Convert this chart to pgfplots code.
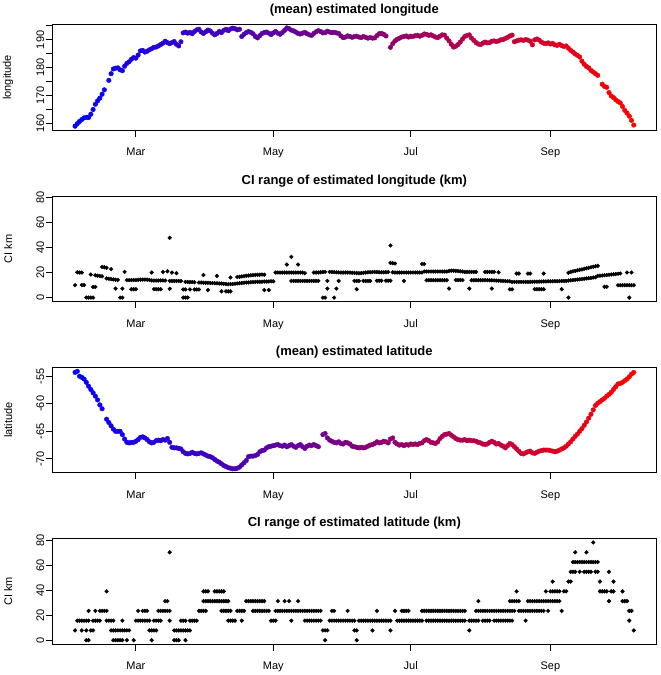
\documentclass[border=0pt]{standalone}
\usepackage{fontspec}
\setmainfont{Liberation Sans}
\usepackage{pgfplots}
\pgfplotsset{compat=1.18}
\begin{document}
\begin{tikzpicture}
\useasboundingbox (0pt,0pt) rectangle (661pt,675pt);
\pgfplotsset{
 rp/.style={
  scale only axis, width=604pt, height=105.5pt, anchor=south west,
  xmin=22.9, xmax=291.0,
  axis line style={line width=0.9pt},
  every tick/.style={black, line width=0.9pt},
  tick align=outside, major tick length=6.6pt, tick pos=left,
  xtick={60,121,182,244}, xticklabels={Mar,May,Jul,Sep},
  xticklabel style={font=\fontsize{11}{13}\selectfont, anchor=base, inner sep=0pt, yshift=-19pt},
  yticklabel style={font=\fontsize{11}{13}\selectfont, xshift=-1.5pt, rotate=90, anchor=base, inner sep=0pt},
  every axis y label/.style={at={(axis description cs:0,0.5)}, xshift=-44.2pt, rotate=90, anchor=center, font=\fontsize{11}{13}\selectfont},
  every axis title/.style={at={(axis description cs:0.5,1)}, anchor=center, yshift=15pt, font=\bfseries\fontsize{13}{15}\selectfont},
  colormap={br}{rgb255=(0,0,255) rgb255=(255,0,0)},
  point meta min=33, point meta max=281,
 },
 meanpts/.style={scatter, only marks, mark=*, mark size=2.3pt, point meta=x, scatter/use mapped color={draw=mapped color, fill=mapped color}},
 cipts/.style={only marks, mark=*, mark size=1.9pt, black, mark options={fill=black, draw=black}},
}
% ---------------- panel 1: longitude
\begin{axis}[rp, at={(52.3pt,544.8pt)}, ymin=157.45, ymax=195.45,
  ytick={160,165,170,175,180,185,190,195}, yticklabels={160,,170,,180,,190,},
  ylabel={longitude}, title={(mean) estimated longitude}]
\addplot[meanpts] table[row sep=\\] {x y\\
33 158.9\\34 159.8\\35 160.6\\36 161.3\\37 161.9\\38 162.1\\39 162.0\\40 163.2\\41 164.9\\42 166.8\\43 168.0\\44 169.0\\45 170.4\\46 172.0\\48 175.4\\49 177.8\\50 179.5\\51 179.8\\52 179.9\\53 179.2\\54 178.9\\55 180.5\\56 181.5\\57 182.1\\58 183.0\\59 183.6\\60 183.4\\61 184.5\\62 186.0\\63 186.2\\64 185.6\\65 185.9\\66 186.4\\67 186.8\\68 187.3\\69 187.4\\70 187.8\\71 188.3\\72 188.8\\73 189.5\\74 189.0\\75 188.6\\76 189.0\\77 189.4\\78 188.4\\79 187.8\\80 189.3\\81 192.5\\82 192.8\\83 192.4\\84 192.7\\85 192.2\\86 193.0\\87 193.6\\88 193.8\\89 192.8\\90 192.3\\91 192.9\\92 193.5\\93 193.2\\94 192.4\\95 191.8\\96 192.3\\97 193.0\\98 192.6\\99 193.4\\100 193.8\\101 193.3\\102 193.9\\103 194.2\\104 194.0\\105 193.6\\106 193.8\\107 191.2\\108 192.0\\109 192.6\\110 193.0\\111 192.7\\112 192.2\\113 191.2\\114 190.7\\115 191.5\\116 192.3\\117 192.6\\118 192.8\\119 192.4\\120 191.9\\121 192.5\\122 193.0\\123 192.4\\124 192.0\\125 192.6\\126 193.4\\127 194.3\\128 194.0\\129 193.5\\130 193.2\\131 192.8\\132 192.3\\133 192.1\\134 192.4\\135 192.7\\136 192.2\\137 191.8\\138 191.6\\139 192.3\\140 192.9\\141 193.3\\142 193.0\\143 192.5\\144 192.6\\145 193.1\\146 192.8\\147 192.6\\148 192.7\\149 192.5\\150 192.3\\151 191.4\\152 190.8\\153 191.0\\154 191.4\\155 191.2\\156 190.9\\157 191.2\\158 191.3\\159 191.0\\160 190.8\\161 191.2\\162 190.9\\163 190.6\\164 190.8\\165 190.6\\166 190.7\\167 191.5\\168 192.2\\169 192.3\\170 192.0\\171 191.4\\173 187.3\\174 188.6\\175 189.6\\176 190.2\\177 190.6\\178 191.0\\179 191.2\\180 191.4\\181 191.0\\182 191.3\\183 191.2\\184 191.5\\185 191.6\\186 191.3\\187 191.6\\188 192.1\\189 192.0\\190 191.6\\191 191.8\\192 191.4\\193 191.0\\194 190.8\\195 191.3\\196 191.8\\197 191.7\\198 190.6\\199 189.6\\200 188.4\\201 187.4\\202 187.7\\203 188.3\\204 189.2\\205 190.3\\206 191.2\\207 191.6\\208 191.8\\209 190.6\\210 189.8\\211 189.0\\212 188.5\\213 188.3\\214 188.8\\215 189.2\\216 188.9\\217 189.0\\218 189.5\\219 189.6\\220 189.4\\221 189.6\\222 190.0\\223 190.1\\224 190.5\\225 190.9\\226 191.4\\227 191.7\\228 189.3\\229 189.6\\230 189.9\\231 190.0\\232 189.8\\233 190.1\\234 189.9\\235 189.5\\236 188.2\\237 190.0\\238 190.3\\239 189.9\\240 189.2\\241 188.8\\242 188.6\\243 188.9\\244 188.5\\245 188.7\\246 188.2\\247 188.0\\248 188.4\\249 187.9\\250 187.6\\251 187.8\\252 187.0\\253 186.2\\254 185.6\\255 184.9\\256 184.4\\257 183.8\\258 182.3\\259 181.2\\260 180.4\\261 179.9\\262 179.0\\263 178.4\\264 177.8\\265 177.2\\267 174.0\\268 173.2\\269 172.9\\270 171.0\\271 169.8\\272 169.2\\273 168.4\\274 167.8\\275 167.3\\276 166.0\\277 164.6\\278 163.6\\279 162.5\\280 161.0\\281 159.3\\
};
\end{axis}
% ---------------- panel 2: CI longitude
\begin{axis}[rp, at={(52.3pt,373.5pt)}, ymin=-3.12, ymax=81.12,
  ytick={0,20,40,60,80}, yticklabels={0,20,40,60,80},
  ylabel={CI km}, title={CI range of estimated longitude (km)}]
\addplot[cipts] coordinates {
(33,9.9) (34,20.2) (35,20) (36,20) (36,10) (37,10) (38,0) (39,0) (40,0) (41,0) (40,18.4) (41,8.5) (42,8.5) (42,17.8) (43,17.5) (44,17.2) (45,17) (45,24.5) (46,24.2) (47,23.8) (49,22.7) (47,15.3) (48,15) (49,14.8) (50,14.5) (51,14.3) (52,14.1) (51,7.2) (53,0) (54,0) (54,7.2) (55,20.5) (56,13.9) (57,13.9) (58,14) (59,14) (60,14) (61,14.2) (62,14.3) (63,14.4) (64,14.4) (65,14.3) (66,14.1) (58,6.7) (59,6.7) (60,6.7) (67,20) (68,6.7) (69,6.7) (70,6.7) (71,6.7) (67,13.7) (68,13.6) (69,13.6) (70,13.6) (71,13.7) (72,13.7) (73,13.6) (72,20.5) (74,21) (75,47.7) (75,7) (76,20) (75,13.3) (76,13.3) (77,13.3) (78,13.3) (79,13.3) (80,13.2) (78,19.5) (81,0) (82,0) (83,0) (81,6.5) (82,6.5) (84,6.5) (82,12.5) (83,12.5) (84,12.4) (85,12.4) (86,12.3) (86,6.5) (87,6.5) (88,6.5) (88,12) (89,12) (90,11.9) (91,11.8) (92,11.8) (93,11.7) (94,11.6) (95,11.5) (96,11.4) (97,11.3) (98,11.2) (99,11) (100,10.8) (101,10.7) (90,18) (92,6) (96,17.3) (98,5) (100,5) (101,5) (102,5) (102,16) (102,10.8) (103,10.9) (104,11.1) (105,11.3) (106,11.5) (107,11.7) (108,11.9) (109,12) (110,12.1) (111,12.3) (112,12.4) (105,16.4) (106,16.6) (107,16.9) (108,17.1) (109,17.4) (110,17.6) (111,17.8) (112,18) (113,18.1) (114,18.2) (115,18.3) (116,18.4) (117,18.3) (117,6) (119,6) (113,12.5) (114,12.6) (115,12.6) (116,12.7) (117,12.8) (118,12.8) (119,12.9) (120,13) (121,13) (122,20) (123,20) (124,20) (125,20) (126,20) (127,20) (128,20) (129,20) (130,20) (131,20) (132,20) (133,20) (134,20) (127,26.4) (129,32.5) (132,26.4) (129,13.3) (130,13.3) (131,13.3) (132,13.3) (133,13.3) (134,13.3) (135,13.3) (136,13.3) (137,13.3) (138,13.3) (139,13.3) (140,13.3) (141,13.3) (135,19.5) (139,20) (140,20) (141,20) (142,20.2) (143,20.4) (144,20.5) (143,0) (144,0) (145,7.2) (145,13.3) (146,20.5) (147,20.4) (148,20.3) (149,20.2) (150,20.1) (151,20) (152,20) (153,20) (154,20) (155,20) (148,0) (149,7.2) (150,13.3) (156,19.8) (157,19.7) (158,19.6) (159,19.5) (160,19.6) (161,19.8) (162,20) (163,20.2) (164,20.3) (165,20.4) (166,20.5) (167,20.4) (168,20.3) (169,20.2) (170,20.2) (171,20.3) (172,20.4) (174,20.2) (157,13.3) (158,13.3) (159,13.3) (158,6.7) (161,13.3) (162,13.3) (163,13.3) (164,13.3) (167,13.5) (168,13.5) (169,13.5) (171,13.5) (172,13.5) (173,13.5) (173,41.6) (173,27.7) (174,27.5) (175,27.2) (175,20) (176,20) (177,20) (178,20) (179,20) (180,20) (181,20) (182,20) (183,20) (184,20) (185,20) (186,20) (187,20) (179,13.3) (187,26.8) (188,26.8) (188,20.8) (189,20.8) (190,20.8) (191,20.8) (192,20.8) (193,20.8) (194,20.8) (195,20.8) (196,20.8) (197,20.8) (198,20.8) (189,13.9) (190,13.9) (191,13.9) (192,13.9) (193,13.9) (194,13.9) (195,13.9) (196,13.9) (197,13.9) (198,13.9) (199,7.2) (199,21.3) (200,21.5) (201,21.5) (202,21.3) (203,21.2) (204,21) (205,20.8) (202,14) (203,14) (204,14) (205,14) (206,20.5) (207,20.5) (208,20.5) (209,20.5) (210,20.5) (211,20.5) (208,7.2) (209,13.9) (210,13.9) (211,13.9) (212,13.9) (213,13.9) (214,13.9) (215,13.9) (216,13.9) (215,20.5) (216,20.5) (217,20.5) (218,20.5) (219,20.5) (218,7.2) (217,13.8) (218,13.8) (219,13.7) (220,13.6) (221,13.5) (222,13.4) (223,13.3) (224,13.2) (225,13.1) (226,13) (221,20.2) (226,6.6) (227,6.6)
(227,12.5) (228,12.5) (229,12.5) (230,12.5) (231,12.5) (232,12.5) (233,12.5) (234,12.5) (235,12.6) (236,12.6) (237,12.7) (238,12.7) (239,12.8) (240,12.8) (241,12.9) (242,12.9) (243,13) (244,13) (245,13) (246,13.1) (247,13.1) (248,13.2) (249,13.2) (250,13.3) (251,13.3) (229,19.2) (230,19.2) (234,19.2) (235,19.2) (237,6.7) (238,6.7) (239,6.7) (240,6.7) (241,6.7) (241,19.2) (249,6.7) (252,0)
(252,19.8) (253,20.5) (254,21) (255,21.3) (256,21.8) (257,22.2) (258,22.5) (259,23) (260,23.4) (261,23.8) (262,24.2) (263,24.6) (264,25) (265,25.3)
(252,13.6) (253,13.8) (254,14) (255,14.2) (256,14.4) (257,14.6) (258,14.8) (259,15) (260,15.3) (261,15.5) (262,15.7) (263,16) (264,16.2)
(265,17.3) (266,17.5) (267,17.6) (268,17.8) (269,18) (270,18.2) (271,18.4) (272,18.6) (273,18.8) (274,19) (275,19.2) (268,8.6) (269,8.6)
(274,9.9) (275,9.9) (276,9.9) (277,9.9) (278,9.9) (279,9.9) (280,9.9) (281,9.9) (278,20) (280,20) (279,0)
};
\end{axis}
% ---------------- panel 3: latitude
\begin{axis}[rp, at={(52.3pt,202.2pt)}, ymin=-72.53, ymax=-53.37,
  ytick={-70,-65,-60,-55}, yticklabels={-70,-65,-60,-55},
  ylabel={latitude}, title={(mean) estimated latitude}]
\addplot[meanpts] table[row sep=\\] {x y\\
33 -54.3\\34 -54.1\\35 -55.0\\36 -55.2\\37 -55.5\\38 -56.1\\39 -56.8\\40 -57.4\\41 -58.0\\42 -58.6\\43 -59.3\\44 -60.2\\45 -60.9\\47 -62.8\\48 -63.4\\49 -64.0\\50 -64.6\\51 -65.0\\52 -65.0\\53 -65.0\\54 -65.6\\55 -66.4\\56 -67.0\\57 -67.1\\58 -67.0\\59 -67.0\\60 -66.8\\61 -66.5\\62 -66.1\\63 -66.0\\64 -66.2\\65 -66.5\\66 -66.9\\67 -67.1\\68 -67.0\\69 -66.7\\70 -66.6\\71 -66.7\\72 -66.5\\73 -66.6\\74 -66.3\\75 -67.0\\76 -67.9\\77 -68.0\\78 -68.0\\79 -68.1\\80 -68.2\\81 -68.7\\82 -69.0\\83 -69.1\\84 -69.0\\85 -68.8\\86 -69.0\\87 -69.1\\88 -69.0\\89 -68.9\\90 -69.1\\91 -69.3\\92 -69.5\\93 -69.6\\94 -69.8\\95 -70.1\\96 -70.4\\97 -70.6\\98 -70.9\\99 -71.2\\100 -71.4\\101 -71.6\\102 -71.7\\103 -71.8\\104 -71.8\\105 -71.7\\106 -71.5\\107 -71.1\\108 -70.7\\109 -70.3\\110 -69.6\\111 -69.5\\112 -69.5\\113 -69.4\\114 -69.2\\115 -68.7\\116 -68.5\\117 -68.4\\118 -68.0\\119 -67.8\\120 -67.7\\121 -67.6\\122 -67.5\\123 -67.4\\124 -67.6\\125 -67.7\\126 -67.5\\127 -67.8\\128 -67.6\\129 -67.4\\130 -67.7\\131 -67.9\\132 -67.6\\133 -67.4\\134 -67.8\\135 -68.1\\136 -67.7\\137 -67.5\\138 -67.6\\139 -67.4\\140 -67.6\\141 -67.8\\143 -65.6\\144 -65.4\\145 -66.2\\146 -66.6\\147 -66.8\\148 -67.0\\149 -67.1\\150 -66.9\\151 -67.2\\152 -67.3\\153 -67.0\\154 -67.1\\155 -67.3\\156 -67.7\\157 -67.8\\158 -67.9\\159 -68.0\\160 -67.9\\161 -68.0\\162 -67.9\\163 -67.7\\164 -67.5\\165 -67.4\\166 -67.2\\167 -66.9\\168 -67.1\\169 -67.0\\170 -66.8\\171 -66.9\\172 -67.1\\173 -66.4\\174 -66.2\\175 -67.0\\176 -67.3\\177 -67.5\\178 -67.4\\179 -67.6\\180 -67.4\\181 -67.5\\182 -67.3\\183 -67.4\\184 -67.3\\185 -67.4\\186 -67.2\\187 -67.1\\188 -66.7\\189 -66.5\\190 -66.7\\191 -67.0\\192 -67.1\\193 -67.2\\194 -66.9\\195 -66.3\\196 -65.9\\197 -65.6\\198 -65.5\\199 -65.4\\200 -65.7\\201 -66.0\\202 -66.3\\203 -66.5\\204 -66.6\\205 -66.6\\206 -66.5\\207 -66.7\\208 -66.6\\209 -66.7\\210 -66.7\\211 -66.8\\212 -67.0\\213 -67.1\\214 -67.3\\215 -67.4\\216 -67.3\\217 -67.0\\218 -66.8\\219 -67.0\\220 -67.3\\221 -67.2\\222 -67.5\\223 -67.7\\224 -68.0\\225 -67.6\\226 -67.2\\227 -67.4\\228 -67.8\\229 -68.2\\230 -68.6\\231 -69.0\\232 -69.1\\233 -68.9\\234 -68.7\\235 -68.6\\236 -68.9\\237 -69.0\\238 -68.8\\239 -68.6\\240 -68.5\\241 -68.4\\242 -68.4\\243 -68.4\\244 -68.5\\245 -68.6\\246 -68.7\\247 -68.6\\248 -68.4\\249 -68.2\\250 -68.0\\251 -67.7\\252 -67.3\\253 -66.9\\254 -66.4\\255 -65.9\\256 -65.5\\257 -65.0\\258 -64.5\\259 -63.9\\260 -63.3\\261 -62.6\\262 -61.9\\263 -61.1\\264 -60.3\\265 -59.9\\266 -59.6\\267 -59.3\\268 -59.0\\269 -58.6\\270 -58.3\\271 -57.9\\272 -57.4\\273 -56.9\\274 -56.4\\275 -56.3\\276 -56.1\\277 -55.8\\278 -55.5\\279 -55.1\\280 -54.6\\281 -54.3\\
};
\end{axis}
% ---------------- panel 4: CI latitude
\begin{axis}[rp, at={(52.3pt,30.9pt)}, ymin=-3.12, ymax=81.12,
  ytick={0,20,40,60,80}, yticklabels={0,20,40,60,80},
  ylabel={CI km}, title={CI range of estimated latitude (km)}]
% 0 km
\addplot[cipts] coordinates {(38,0) (39,0) (50,0) (51,0) (52,0) (53,0) (54,0) (56,0) (59,0) (67,0) (77,0) (78,0) (79,0) (82,0) (144,0) (158,0)};
% 7.8 km
\addplot[cipts] coordinates {(33,7.8) (36,7.8) (38,7.8) (40,7.8) (41,7.8) (49,7.8) (50,7.8) (51,7.8) (52,7.8) (53,7.8) (54,7.8) (55,7.8) (56,7.8) (57,7.8) (66,7.8) (67,7.8) (68,7.8) (69,7.8) (77,7.8) (78,7.8) (79,7.8) (80,7.8) (81,7.8) (82,7.8) (83,7.8) (84,7.8) (143,7.8) (144,7.8) (145,7.8) (157,7.8) (158,7.8) (165,7.8) (173,7.8) (208,7.8) (281,7.8)};
% 15.6 km
\addplot[cipts] coordinates {(34,15.6) (35,15.6) (36,15.6) (37,15.6) (38,15.6) (39,15.6) (41,15.6) (42,15.6) (43,15.6) (44,15.6) (47,15.6) (48,15.6) (49,15.6) (50,15.6) (54,15.6) (60,15.6) (61,15.6) (62,15.6) (63,15.6) (64,15.6) (65,15.6) (66,15.6) (68,15.6) (69,15.6) (70,15.6) (71,15.6) (75,15.6) (80,15.6) (81,15.6) (82,15.6) (84,15.6) (85,15.6) (86,15.6) (87,15.6) (101,15.6) (102,15.6) (103,15.6) (104,15.6) (107,15.6) (120,15.6) (121,15.6) (122,15.6) (129,15.6) (135,15.6) (136,15.6) (137,15.6) (138,15.6) (139,15.6) (140,15.6) (141,15.6) (142,15.6) (146,15.6) (147,15.6) (148,15.6) (149,15.6) (150,15.6) (151,15.6) (152,15.6) (153,15.6) (154,15.6) (155,15.6) (156,15.6) (157,15.6) (159,15.6) (160,15.6) (161,15.6) (162,15.6) (163,15.6) (164,15.6) (165,15.6) (166,15.6) (167,15.6) (168,15.6) (169,15.6) (170,15.6) (171,15.6) (172,15.6) (173,15.6) (176,15.6) (177,15.6) (178,15.6) (179,15.6) (180,15.6) (181,15.6) (182,15.6) (183,15.6) (184,15.6) (185,15.6) (186,15.6) (187,15.6) (189,15.6) (190,15.6) (191,15.6) (192,15.6) (193,15.6) (194,15.6) (195,15.6) (196,15.6) (197,15.6) (198,15.6) (199,15.6) (200,15.6) (201,15.6) (202,15.6) (203,15.6) (204,15.6) (205,15.6) (206,15.6) (208,15.6) (209,15.6) (210,15.6) (211,15.6) (212,15.6) (214,15.6) (215,15.6) (216,15.6) (217,15.6) (219,15.6) (220,15.6) (221,15.6) (222,15.6) (223,15.6) (224,15.6) (225,15.6) (226,15.6) (227,15.6) (233,15.6) (279,15.6)};
% 23.4 km
\addplot[cipts] coordinates {(39,23.4) (42,23.4) (44,23.4) (45,23.4) (46,23.4) (47,23.4) (61,23.4) (63,23.4) (64,23.4) (65,23.4) (70,23.4) (71,23.4) (72,23.4) (73,23.4) (74,23.4) (75,23.4) (88,23.4) (89,23.4) (90,23.4) (91,23.4) (98,23.4) (99,23.4) (100,23.4) (101,23.4) (102,23.4) (105,23.4) (106,23.4) (107,23.4) (108,23.4) (112,23.4) (113,23.4) (114,23.4) (115,23.4) (116,23.4) (117,23.4) (118,23.4) (119,23.4) (122,23.4) (123,23.4) (124,23.4) (125,23.4) (126,23.4) (127,23.4) (128,23.4) (129,23.4) (130,23.4) (131,23.4) (132,23.4) (133,23.4) (134,23.4) (135,23.4) (136,23.4) (137,23.4) (138,23.4) (139,23.4) (140,23.4) (141,23.4) (142,23.4) (147,23.4) (148,23.4) (154,23.4) (167,23.4) (175,23.4) (178,23.4) (179,23.4) (180,23.4) (181,23.4) (187,23.4) (188,23.4) (189,23.4) (190,23.4) (191,23.4) (192,23.4) (193,23.4) (194,23.4) (195,23.4) (196,23.4) (197,23.4) (198,23.4) (199,23.4) (200,23.4) (201,23.4) (202,23.4) (203,23.4) (204,23.4) (205,23.4) (206,23.4) (211,23.4) (212,23.4) (213,23.4) (214,23.4) (215,23.4) (216,23.4) (217,23.4) (218,23.4) (219,23.4) (220,23.4) (221,23.4) (222,23.4) (223,23.4) (224,23.4) (225,23.4) (226,23.4) (227,23.4) (228,23.4) (230,23.4) (231,23.4) (232,23.4) (233,23.4) (234,23.4) (235,23.4) (236,23.4) (237,23.4) (238,23.4) (239,23.4) (240,23.4) (241,23.4) (243,23.4) (249,23.4) (279,23.4) (280,23.4)};
% 31.2 km
\addplot[cipts] coordinates {(73,31.2) (74,31.2) (90,31.2) (91,31.2) (92,31.2) (93,31.2) (94,31.2) (95,31.2) (96,31.2) (97,31.2) (98,31.2) (99,31.2) (100,31.2) (101,31.2) (109,31.2) (110,31.2) (111,31.2) (112,31.2) (113,31.2) (114,31.2) (115,31.2) (116,31.2) (117,31.2) (123,31.2) (126,31.2) (128,31.2) (132,31.2) (212,31.2) (226,31.2) (227,31.2) (228,31.2) (229,31.2) (230,31.2) (234,31.2) (235,31.2) (236,31.2) (237,31.2) (238,31.2) (239,31.2) (240,31.2) (241,31.2) (242,31.2) (243,31.2) (244,31.2) (245,31.2) (246,31.2) (247,31.2) (248,31.2) (270,31.2) (276,31.2) (277,31.2) (278,31.2)};
% 39 km
\addplot[cipts] coordinates {(47,39) (90,39) (91,39) (92,39) (95,39) (96,39) (97,39) (98,39) (99,39) (229,39) (242,39) (244,39) (245,39) (246,39) (247,39) (248,39) (250,39) (251,39) (266,39) (267,39) (268,39) (269,39) (271,39) (272,39) (276,39)};
% 46.8 km
\addplot[cipts] coordinates {(245,46.8) (252,46.8) (253,46.8) (266,46.8) (272,46.8)};
% 54.6 km
\addplot[cipts] coordinates {(253,54.6) (254,54.6) (255,54.6) (257,54.6) (259,54.6) (260,54.6) (261,54.6) (262,54.6) (264,54.6) (265,54.6) (270,54.6)};
% 62.4 km
\addplot[cipts] coordinates {(254,62.4) (255,62.4) (256,62.4) (257,62.4) (258,62.4) (259,62.4) (260,62.4) (261,62.4) (262,62.4) (263,62.4) (264,62.4) (265,62.4)};
% 70.2 and 78 km
\addplot[cipts] coordinates {(75,70.2) (255,70.2) (260,70.2) (263,78)};
\end{axis}
\end{tikzpicture}
\end{document}
